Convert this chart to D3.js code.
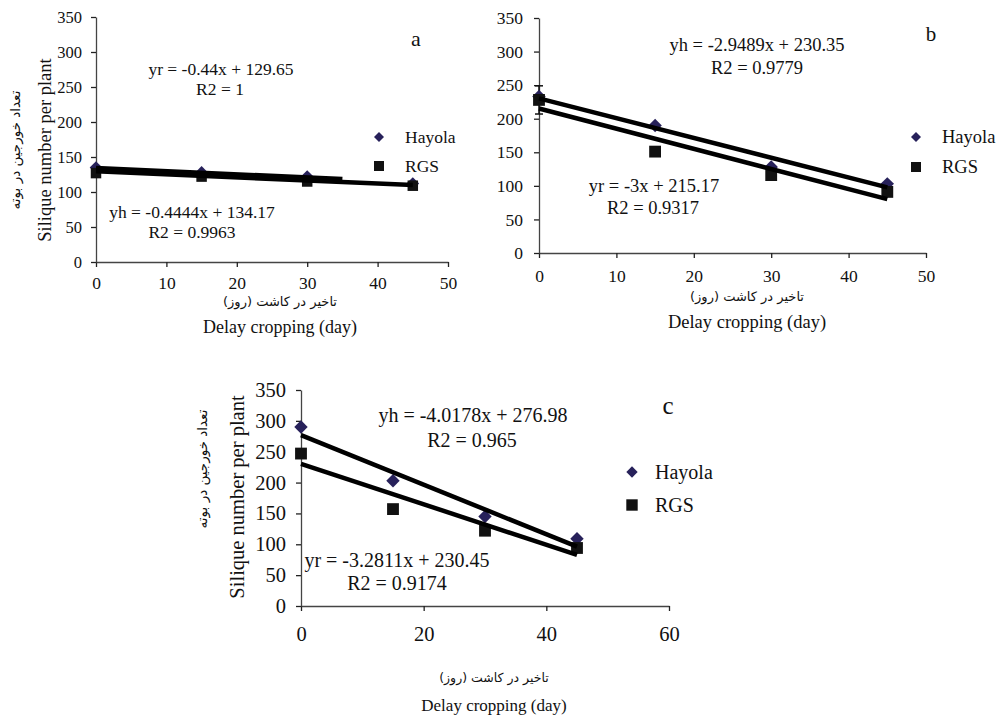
<!DOCTYPE html>
<html><head><meta charset="utf-8">
<script src="https://cdn.jsdelivr.net/npm/d3@7"></script>
<style>body{margin:0;background:#fff}</style></head>
<body><svg id="chart" width="996" height="715"></svg>
<script>
// ---------- data ----------
const days = [0, 15, 30, 45];
const hayolaA = [135, 128, 122, 112];
const rgsA    = [127, 122, 115, 109];
const hayolaB = [233, 190, 128, 103];
const rgsB    = [228, 151, 116, 91];
const rgsErrB = [21, 0, 0, 0];
const hayolaC = [290, 203, 145, 109];
const rgsC    = [247, 157, 122, 94];
// trendlines [slope, intercept, xEnd]
const trendHA = [-0.4444, 134.17, 35];
const trendRA = [-0.44, 129.65, 45];
const trendHB = [-2.9489, 230.35, 45];
const trendRB = [-3, 215.17, 45];
const trendHC = [-4.0178, 276.98, 45];
const trendRC = [-3.2811, 230.45, 45];
const yTicks = [0, 50, 100, 150, 200, 250, 300, 350];
const xTicksAB = [0, 10, 20, 30, 40, 50];
const xTicksC = [0, 20, 40, 60];
const eqA = ["yr = -0.44x + 129.65", "R2 = 1", "yh = -0.4444x + 134.17", "R2 = 0.9963"];
const eqB = ["yh = -2.9489x + 230.35", "R2 = 0.9779", "yr = -3x + 215.17", "R2 = 0.9317"];
const eqC = ["yh = -4.0178x + 276.98", "R2 = 0.965", "yr = -3.2811x + 230.45", "R2 = 0.9174"];
const seriesNames = ["Hayola", "RGS"];
const yTitle = "Silique number per plant";
const yTitleFa = "تعداد خورجین در بوته";
const xTitle = "Delay cropping (day)";
const xTitleFa = "تاخیر در کاشت (روز)";

// ---------- drawing ----------
const svg = d3.select("#chart");
const serif = "'Liberation Serif','Times New Roman',serif";
const fa = "'DejaVu Sans',sans-serif";
const hayolaColor = "#27215a";
const rgsColor = "#111";

const panels = [
  {letter:"a", xd:[0,50], xt:xTicksAB, px:[96,448], py:[262,17], xfs:17.5, yfs:16.5, xpad:10, ypad:9,
   h:hayolaA, r:rgsA, err:null, tH:trendHA, tR:trendRA, eq:eqA, eqfs:17.5,
   eqPos:[[221,69],[220,89],[192,212],[192,232]], letterPos:[416,38], letterFs:22,
   leg:{x:379, y:[137,166], tx:405, fs:17.5, dm:50, sq:100},
   mk:{dm:80, sq:110}, lw:4.5,
   yT:{x:45,y:150,fs:18.5}, yTf:{x:15,y:150,fs:13.5},
   xTf:{x:280,y:301,fs:13}, xT:{x:280,y:327,fs:18}},
  {letter:"b", xd:[0,50], xt:xTicksAB, px:[539,926], py:[253,18], xfs:17.5, yfs:17.5, xpad:12, ypad:11,
   h:hayolaB, r:rgsB, err:rgsErrB, tH:trendHB, tR:trendRB, eq:eqB, eqfs:18.5,
   eqPos:[[757,45],[757,68],[654,186],[653,208]], letterPos:[931,34], letterFs:21,
   leg:{x:916, y:[137,167], tx:942, fs:18.5, dm:50, sq:100},
   mk:{dm:90, sq:140}, lw:4.5,
   yT:null, yTf:null,
   xTf:{x:747,y:296,fs:13}, xT:{x:747,y:322,fs:18.5}},
  {letter:"c", xd:[0,60], xt:xTicksC, px:[301,669], py:[606,390], xfs:20.5, yfs:20.5, xpad:15, ypad:10,
   h:hayolaC, r:rgsC, err:null, tH:trendHC, tR:trendRC, eq:eqC, eqfs:20,
   eqPos:[[473,415],[472,440],[397,560],[397,583]], letterPos:[668,405], letterFs:25,
   leg:{x:632, y:[472,505], tx:655, fs:20, dm:64, sq:130},
   mk:{dm:90, sq:140}, lw:4.5,
   yT:{x:237,y:497,fs:20.5}, yTf:{x:202,y:469,fs:13.5},
   xTf:{x:494,y:677,fs:12.5}, xT:{x:494,y:705,fs:17}}
];

panels.forEach(p => {
  const g = svg.append("g");
  const x = d3.scaleLinear().domain(p.xd).range(p.px);
  const y = d3.scaleLinear().domain([0,350]).range(p.py);

  const ax = g.append("g").attr("transform", `translate(0,${p.py[0]})`)
    .call(d3.axisBottom(x).tickValues(p.xt).tickSize(5).tickSizeOuter(0).tickPadding(p.xpad).tickFormat(d3.format("d")));
  const ay = g.append("g").attr("transform", `translate(${p.px[0]},0)`)
    .call(d3.axisLeft(y).tickValues(yTicks).tickSize(5).tickSizeOuter(0).tickPadding(p.ypad).tickFormat(d3.format("d")));
  [ax, ay].forEach(a => {
    a.select(".domain").attr("stroke", "#444").attr("stroke-width", 1.3);
    a.selectAll(".tick line").attr("stroke", "#222").attr("stroke-width", 1.3);
    a.selectAll(".tick text").attr("fill", "#111").attr("font-family", serif);
  });
  ax.selectAll(".tick text").attr("font-size", p.xfs);
  ay.selectAll(".tick text").attr("font-size", p.yfs);

  // error bars
  if (p.err) {
    days.forEach((d,i) => {
      if (!p.err[i]) return;
      const cx = x(d);
      g.append("line").attr("x1", cx).attr("x2", cx)
        .attr("y1", y(p.r[i] - p.err[i])).attr("y2", y(p.r[i] + p.err[i]))
        .attr("stroke", "#111").attr("stroke-width", 1.5);
      [p.r[i] - p.err[i], p.r[i] + p.err[i]].forEach(v => {
        g.append("line").attr("x1", cx - 4).attr("x2", cx + 4).attr("y1", y(v)).attr("y2", y(v))
          .attr("stroke", "#111").attr("stroke-width", 1.5);
      });
    });
  }

  // markers
  g.selectAll(null).data(days.map((d,i)=>[d,p.h[i]])).join("path")
    .attr("d", d3.symbol(d3.symbolSquare, p.mk.dm)())
    .attr("transform", d => `translate(${x(d[0])},${y(d[1])}) rotate(45)`)
    .attr("fill", hayolaColor);
  g.selectAll(null).data(days.map((d,i)=>[d,p.r[i]])).join("path")
    .attr("d", d3.symbol(d3.symbolSquare, p.mk.sq)())
    .attr("transform", d => `translate(${x(d[0])},${y(d[1])})`)
    .attr("fill", rgsColor);

  // trendlines
  [p.tH, p.tR].forEach(t => {
    const pts = [0, t[2]].map(v => [x(v), y(t[0]*v + t[1])]);
    g.append("path").attr("d", d3.line()(pts)).attr("stroke", "#000")
      .attr("stroke-width", p.lw).attr("fill", "none");
  });

  // equations
  p.eq.forEach((s,i) => {
    g.append("text").attr("x", p.eqPos[i][0]).attr("y", p.eqPos[i][1])
      .attr("text-anchor","middle").attr("dominant-baseline","central")
      .attr("font-family", serif).attr("font-size", p.eqfs).attr("fill","#111").text(s);
  });

  // letter
  g.append("text").attr("x", p.letterPos[0]).attr("y", p.letterPos[1])
    .attr("text-anchor","middle").attr("dominant-baseline","central")
    .attr("font-family", serif).attr("font-size", p.letterFs).attr("fill","#111").text(p.letter);

  // legend
  g.append("path").attr("d", d3.symbol(d3.symbolSquare, p.leg.dm)())
    .attr("transform", `translate(${p.leg.x},${p.leg.y[0]}) rotate(45)`).attr("fill", hayolaColor);
  g.append("path").attr("d", d3.symbol(d3.symbolSquare, p.leg.sq)())
    .attr("transform", `translate(${p.leg.x},${p.leg.y[1]})`).attr("fill", rgsColor);
  seriesNames.forEach((n,i) => {
    g.append("text").attr("x", p.leg.tx).attr("y", p.leg.y[i])
      .attr("dominant-baseline","central").attr("font-family", serif)
      .attr("font-size", p.leg.fs).attr("fill","#111").text(n);
  });

  // axis titles
  if (p.yT) {
    g.append("text").attr("transform", `translate(${p.yT.x},${p.yT.y}) rotate(-90)`)
      .attr("text-anchor","middle").attr("dominant-baseline","central")
      .attr("font-family", serif).attr("font-size", p.yT.fs).attr("fill","#111").text(yTitle);
  }
  if (p.yTf) {
    g.append("text").attr("transform", `translate(${p.yTf.x},${p.yTf.y}) rotate(-90)`)
      .attr("text-anchor","middle").attr("dominant-baseline","central").attr("direction","rtl")
      .attr("font-family", fa).attr("font-size", p.yTf.fs).attr("fill","#111").text(yTitleFa);
  }
  g.append("text").attr("x", p.xTf.x).attr("y", p.xTf.y)
    .attr("text-anchor","middle").attr("dominant-baseline","central").attr("direction","rtl")
    .attr("font-family", fa).attr("font-size", p.xTf.fs).attr("fill","#111").text(xTitleFa);
  g.append("text").attr("x", p.xT.x).attr("y", p.xT.y)
    .attr("text-anchor","middle").attr("dominant-baseline","central")
    .attr("font-family", serif).attr("font-size", p.xT.fs).attr("fill","#111").text(xTitle);
});
</script>
</body></html>
